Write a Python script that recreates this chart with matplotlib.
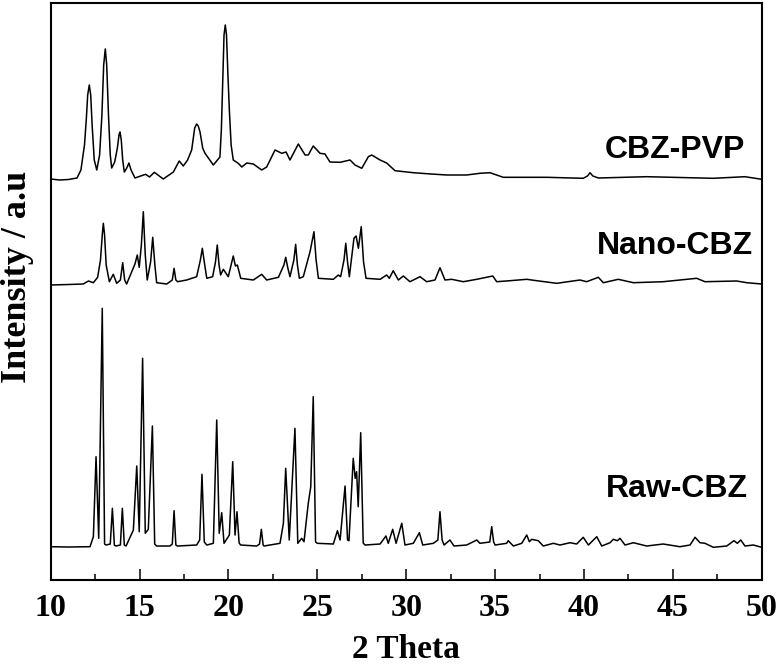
import matplotlib.pyplot as plt

# XRD traces (2 theta, offset intensity in a.u.)
pvp_x = [10.0, 10.5, 11.0, 11.48, 11.7, 11.9, 12.0, 12.08, 12.17, 12.25, 12.33,
         12.45, 12.59, 12.75, 12.88, 12.98, 13.07, 13.15, 13.25, 13.35, 13.43,
         13.6, 13.75, 13.85, 13.9, 13.97, 14.05, 14.14, 14.28, 14.4, 14.52, 14.74,
         15.34, 15.56, 15.83, 16.33, 16.9, 17.23, 17.46, 17.7, 17.93, 18.1, 18.21,
         18.3, 18.4, 18.55, 18.68, 19.15, 19.52, 19.6, 19.68, 19.75, 19.82, 19.89,
         19.97, 20.05, 20.15, 20.27, 20.55, 20.75, 21.03, 21.4, 21.87, 22.15,
         22.62, 23.0, 23.24, 23.46, 23.93, 24.31, 24.49, 24.77, 25.15, 25.43,
         25.71, 26.28, 26.84, 27.12, 27.5, 27.87, 28.06, 28.53, 28.9, 29.37, 30.4,
         31.4, 32.28, 33.4, 34.15, 34.71, 35.46, 37.9, 39.96, 40.2, 40.34, 40.5,
         40.81, 43.53, 47.28, 49.06, 50.0]
pvp_y = [401, 400, 400.5, 402, 410, 435, 460, 485, 495, 485, 455,
         420, 410, 425, 465, 515, 531, 515, 465, 425, 412,
         418, 432, 446, 448, 440, 420, 408, 412, 417, 410, 402,
         405.7, 403, 407.7, 401, 408, 419, 414, 420, 430, 452, 456,
         454, 448, 432, 426.7, 415, 423, 450, 500, 545, 555, 545,
         505, 470, 435, 420, 416.7, 413, 417, 416, 410, 413,
         430, 426.7, 428, 420, 436, 425, 425, 434, 426.7, 426,
         418, 417.7, 420, 415, 411.7, 423.3, 425, 420, 417, 409.3, 407.3,
         406, 405, 405, 406.7, 407.3, 402.7, 402.7, 401.7, 404, 407.3, 404,
         402, 403.3, 401.7, 403.3, 400.7]

nano_x = [10.0, 11.0, 11.83, 12.12, 12.4, 12.64, 12.8, 12.9, 12.96, 13.03, 13.12,
          13.3, 13.52, 13.71, 13.92, 14.05, 14.16, 14.27, 14.74, 14.87, 14.98,
          15.1, 15.21, 15.32, 15.43, 15.62, 15.74, 15.86, 15.96, 16.53, 16.84,
          16.94, 17.04, 17.14, 17.65, 18.21, 18.42, 18.53, 18.64, 18.78, 19.11,
          19.27, 19.37, 19.47, 19.56, 19.71, 19.99, 20.27, 20.39, 20.5, 20.69,
          21.4, 21.87, 22.15, 22.81, 23.12, 23.22, 23.34, 23.46, 23.68, 23.78,
          23.88, 23.99, 24.21, 24.59, 24.81, 24.93, 25.06, 25.9, 26.18, 26.31,
          26.5, 26.6, 26.7, 26.8, 27.06, 27.18, 27.31, 27.47, 27.6, 27.74, 28.53,
          28.9, 29.05, 29.27, 29.56, 29.84, 30.21, 30.78, 31.15, 31.62, 31.9,
          32.18, 32.56, 33.21, 33.97, 34.87, 35.09, 35.84, 36.78, 37.34, 38.47,
          39.78, 40.15, 40.81, 41.09, 41.93, 42.78, 44.46, 46.34, 46.81, 48.59,
          49.16, 50.0]
nano_y = [295, 295.5, 296, 299, 297.3, 302.7, 320, 345, 356.7, 345, 315,
          298.3, 305.7, 296.7, 300, 317.3, 300, 296, 316, 325, 312.7,
          335, 368.3, 325, 300, 318, 342.7, 315, 297.3, 296, 300,
          311.7, 300, 298.3, 300, 303.3, 320, 331.7, 318, 301.7, 303.3,
          318, 335, 315, 305, 310.7, 303.3, 324, 314, 315, 301.7,
          300, 305.7, 300, 302.7, 315, 322.7, 312, 303.3, 320, 335.7,
          315, 301.7, 303.3, 328.3, 348.3, 320, 301.7, 300.7, 305, 303.3,
          320, 336.7, 318, 303.3, 341.7, 344, 331.7, 353.3, 318, 301.7, 300.7,
          305, 301.7, 309.3, 300, 304, 298.3, 303.3, 298.3, 300, 312.3,
          300, 300.7, 298.3, 300.7, 304, 298.3, 299.3, 300.7, 299.3, 296.7,
          300, 298.3, 302.7, 297.3, 300.7, 297.3, 298.3, 301.7, 298.3, 299,
          297.3, 296]

raw_x = [10.0, 11.0, 12.21, 12.4, 12.55, 12.7, 12.9, 13.03, 13.11, 13.35,
         13.47, 13.58, 13.67, 13.92, 14.03, 14.14, 14.24, 14.65, 14.84, 14.98,
         15.17, 15.32, 15.49, 15.72, 15.85, 15.96, 16.71, 16.84, 16.94, 17.04,
         17.13, 18.21, 18.38, 18.51, 18.64, 18.78, 19.15, 19.34, 19.48, 19.62,
         19.75, 20.05, 20.24, 20.37, 20.48, 20.6, 20.69, 21.59, 21.75, 21.85,
         21.95, 22.0, 22.9, 23.09, 23.22, 23.42, 23.74, 23.9, 24.12, 24.25,
         24.49, 24.63, 24.77, 24.9, 25.0, 25.9, 26.13, 26.28, 26.56, 26.7,
         26.78, 26.93, 27.02, 27.13, 27.21, 27.3, 27.44, 27.58, 27.68, 28.53,
         28.86, 28.99, 29.24, 29.43, 29.75, 29.93, 30.4, 30.74, 30.93, 31.53,
         31.78, 31.9, 32.02, 32.13, 32.46, 32.69, 33.4, 33.97, 34.15, 34.7,
         34.81, 34.92, 35.0, 35.65, 35.74, 36.03, 36.5, 36.78, 36.93, 37.06,
         37.43, 37.71, 38.28, 38.65, 39.22, 39.59, 39.96, 40.25, 40.72, 41.0,
         41.47, 41.65, 41.88, 42.03, 42.31, 42.78, 43.53, 44.46, 45.4, 45.97,
         46.25, 46.53, 46.81, 47.28, 48.03, 48.44, 48.63, 48.82, 49.06, 49.53,
         50.0]
raw_y = [33.3, 33.0, 33.3, 43.3, 123.3, 41.7, 271.7, 36, 35, 36,
         71.7, 35, 34, 35, 71.7, 35, 34, 50, 114, 48.3,
         221.7, 46.7, 50.7, 154, 36, 34, 34, 36, 69.3, 35,
         34, 35, 40, 105.7, 38, 35, 36.7, 160, 46.7, 67.3,
         36.7, 45, 118.3, 45, 68.3, 37, 35, 34, 36, 50.7,
         35, 34, 36.7, 56.7, 111.7, 40, 151.7, 36.7, 41.7, 38.3,
         76.7, 93.3, 183.3, 38, 36.7, 36, 49.3, 40, 94, 40,
         39.3, 90, 121.7, 101.7, 108.3, 73.3, 147.3, 37, 35, 36,
         44, 36.7, 50.7, 36.7, 56.7, 35, 36.7, 47.3, 35, 36.7,
         40, 68.3, 40, 35, 40, 34, 35, 40, 36.7, 38,
         53.3, 38, 35, 36.7, 39.3, 34, 36.7, 45, 38.3, 40.7,
         39.3, 34, 36.7, 35, 37.3, 36, 42.7, 35, 43.3, 34,
         37.3, 40.7, 39.3, 41.7, 35, 37.3, 34, 36, 33.3, 35,
         42.7, 37.3, 36.7, 32.7, 34, 39.3, 36.7, 40, 34, 35,
         32.7]

labels = ['CBZ-PVP', 'Nano-CBZ', 'Raw-CBZ']
label_x = [49.06, 49.5, 49.23]
label_y = [430, 334, 91]

fig = plt.figure(figsize=(7.79, 6.65), dpi=100)
ax = fig.add_axes([0.0651, 0.1278, 0.9127, 0.8677])

for xs, ys in [(pvp_x, pvp_y), (nano_x, nano_y), (raw_x, raw_y)]:
    ax.plot(xs, ys, color='black', lw=1.1)

for name, lx, ly in zip(labels, label_x, label_y):
    ax.text(lx, ly, name, ha='right', va='center', fontsize=23,
            fontweight='bold', family='Liberation Sans')

ax.set_xlim(10, 50)
ax.set_ylim(0, 577)
ax.set_xticks(range(10, 51, 5))
ax.set_xticks([12.5 + 5 * i for i in range(8)], minor=True)
ax.set_yticks([])
ax.tick_params(axis='x', which='major', direction='in', length=8, width=1.1, pad=10)
ax.tick_params(axis='x', which='minor', direction='in', length=4.3, width=1.1)
for lab in ax.get_xticklabels():
    lab.set_family('Liberation Serif')
    lab.set_fontweight('bold')
    lab.set_fontsize(23)
for sp in ax.spines.values():
    sp.set_linewidth(1.5)

ax.set_xlabel('2 Theta', family='Liberation Serif', fontweight='bold',
              fontsize=24, labelpad=8)
ax.set_ylabel('Intensity / a.u', family='Liberation Serif', fontweight='bold',
              fontsize=26)
ax.yaxis.set_label_coords(-0.024, 0.525)

fig.savefig('out.png', dpi=100)
